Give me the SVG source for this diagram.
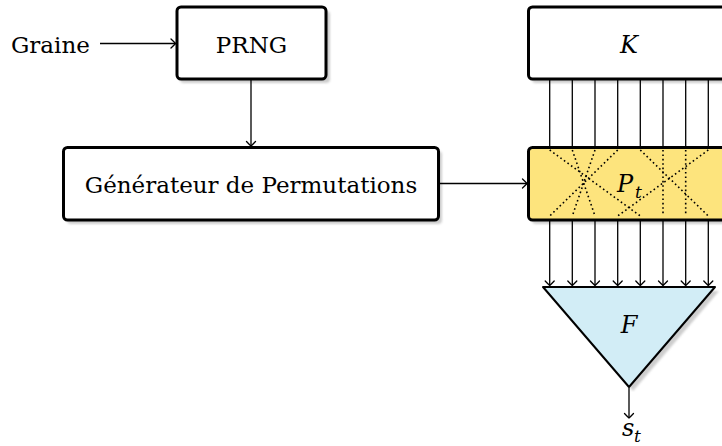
<svg xmlns="http://www.w3.org/2000/svg" width="722" height="446" viewBox="0 0 722 446">
<style>
.box{stroke:#000;stroke-width:3;}
.shadow{fill:#bdbdbd;opacity:0.75;}
.txt{font-family:'DejaVu Serif',serif;font-size:23px;fill:#000;}
.math{font-family:'DejaVu Serif',serif;font-style:italic;font-size:24px;fill:#000;}
.sub{font-family:'DejaVu Serif',serif;font-style:italic;font-size:17px;fill:#000;}
.ln{stroke:#000;stroke-width:1.3;fill:none;}
.arr{stroke:#000;stroke-width:1.3;fill:none;marker-end:url(#to);}
.dot{stroke:#000;stroke-width:1.6;fill:none;stroke-dasharray:1.6 2.8;}
</style>
<defs>
<marker id="to" markerUnits="userSpaceOnUse" markerWidth="12" markerHeight="12" viewBox="-6 -6 12 12" refX="0" refY="0" orient="auto">
<path d="M-4.5,-4.5 Q-1,-1.2 0,0 Q-1,1.2 -4.5,4.5" fill="none" stroke="#000" stroke-width="1.3" stroke-linecap="round"/>
</marker>
<filter id="blur" x="-10%" y="-10%" width="120%" height="120%"><feGaussianBlur stdDeviation="1"/></filter>
</defs>

<g id="graine">
<text class="txt" x="11" y="53">Graine</text>
</g>

<g id="prng">
<rect class="shadow" x="180" y="11" width="150" height="72" rx="4" filter="url(#blur)"/>
<rect class="box" x="177" y="7" width="149" height="72" rx="4" fill="#fff"/>
<text class="txt" x="251.5" y="53" text-anchor="middle">PRNG</text>
</g>

<g id="generateur">
<rect class="shadow" x="67" y="151" width="375" height="73" rx="4" filter="url(#blur)"/>
<rect class="box" x="63.5" y="147.5" width="375" height="72.5" rx="4" fill="#fff"/>
<text class="txt" x="251" y="193" text-anchor="middle">Générateur de Permutations</text>
</g>

<g id="K">
<rect class="shadow" x="532" y="11" width="210" height="72" rx="4" filter="url(#blur)"/>
<rect class="box" x="528.5" y="7" width="210" height="72" rx="4" fill="#fff"/>
<text class="math" x="629" y="53" text-anchor="middle">K</text>
</g>

<g id="Pt">
<rect class="shadow" x="532" y="151" width="210" height="73" rx="4" filter="url(#blur)"/>
<rect class="box" x="528.5" y="147.5" width="210" height="72.5" rx="4" fill="#fde47d"/>
<g class="dot">
<line x1="549.7" y1="150" x2="640.3" y2="216"/>
<line x1="572.3" y1="150" x2="595" y2="216"/>
<line x1="595" y1="150" x2="572.3" y2="216"/>
<line x1="617.7" y1="150" x2="549.7" y2="216"/>
<line x1="640.3" y1="150" x2="708.3" y2="216"/>
<line x1="663" y1="150" x2="663" y2="216"/>
<line x1="685.7" y1="150" x2="685.7" y2="216"/>
<line x1="708.3" y1="150" x2="617.7" y2="216"/>
</g>
<text class="math" x="617" y="192">P</text>
<text class="sub" x="635" y="198">t</text>
</g>

<g id="F">
<polygon class="shadow" points="547,291 719,291 633,391" filter="url(#blur)"/>
<polygon points="543,287 715,287 629,387" fill="#d2edf6" stroke="#000" stroke-width="2" stroke-linejoin="round"/>
<text class="math" x="629" y="333" text-anchor="middle">F</text>
</g>

<g id="st">
<text class="math" x="622" y="436">s</text>
<text class="sub" x="634" y="442">t</text>
</g>

<g id="connectors">
<line class="arr" x1="100" y1="43.5" x2="175.5" y2="43.5"/>
<line class="arr" x1="251" y1="80" x2="251" y2="146"/>
<line class="arr" x1="440" y1="183.5" x2="527" y2="183.5"/>
<g class="ln">
<line x1="549.7" y1="80" x2="549.7" y2="146"/>
<line x1="572.3" y1="80" x2="572.3" y2="146"/>
<line x1="595" y1="80" x2="595" y2="146"/>
<line x1="617.7" y1="80" x2="617.7" y2="146"/>
<line x1="640.3" y1="80" x2="640.3" y2="146"/>
<line x1="663" y1="80" x2="663" y2="146"/>
<line x1="685.7" y1="80" x2="685.7" y2="146"/>
<line x1="708.3" y1="80" x2="708.3" y2="146"/>
</g>
<line class="arr" x1="549.7" y1="221" x2="549.7" y2="285.5"/>
<line class="arr" x1="572.3" y1="221" x2="572.3" y2="285.5"/>
<line class="arr" x1="595" y1="221" x2="595" y2="285.5"/>
<line class="arr" x1="617.7" y1="221" x2="617.7" y2="285.5"/>
<line class="arr" x1="640.3" y1="221" x2="640.3" y2="285.5"/>
<line class="arr" x1="663" y1="221" x2="663" y2="285.5"/>
<line class="arr" x1="685.7" y1="221" x2="685.7" y2="285.5"/>
<line class="arr" x1="708.3" y1="221" x2="708.3" y2="285.5"/>
<line class="arr" x1="629" y1="388" x2="629" y2="418"/>
</g>
</svg>
